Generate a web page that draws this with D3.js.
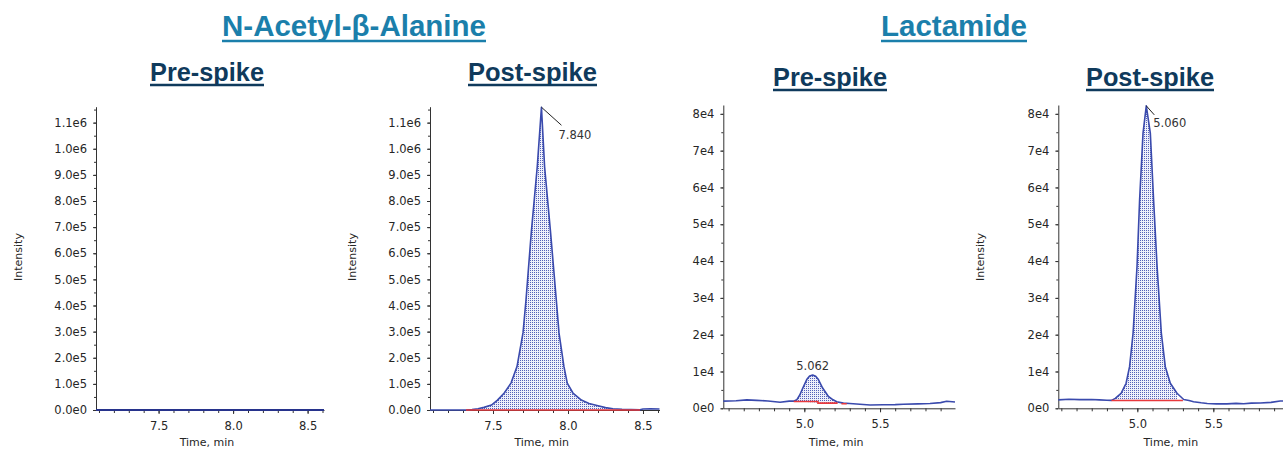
<!DOCTYPE html>
<meta charset="utf-8">
<script src="https://d3js.org/d3.v7.min.js"></script>
<style>
  body { margin: 0; background: #fff; }
  text { font-family: "DejaVu Sans", sans-serif; }
</style>
<div id="chart"></div>
<script>

// headings
var compounds = ["N-Acetyl-β-Alanine", "Lactamide"];
var conditions = ["Pre-spike", "Post-spike", "Pre-spike", "Post-spike"];
var peakLabels = [null, "7.840", "5.062", "5.060"];

// N-Acetyl-beta-Alanine, pre-spike (nothing there)
var acetylPreTime = [7.08, 7.2, 7.4, 7.6, 7.8, 8.0, 8.2, 8.4, 8.61];
var acetylPreIntensity = [0, 0, 0, 0, 0, 0, 0, 0, 0];

// N-Acetyl-beta-Alanine, post-spike
var acetylPostTime = [7.08, 7.2, 7.32, 7.36, 7.40, 7.44, 7.49, 7.53, 7.575, 7.62, 7.66, 7.70, 7.72, 7.755, 7.795, 7.823,
  7.844, 7.884, 7.922, 7.94, 7.973, 7.995, 8.033, 8.089, 8.14, 8.2, 8.25, 8.3, 8.36, 8.42, 8.48, 8.5, 8.55, 8.61];
var acetylPostIntensity = [0, 0, 0, 2000, 5000, 10000, 19000, 38000, 65000, 103000, 166000, 295000, 421000, 678000, 931000, 1159000,
  931000, 678000, 421000, 295000, 166000, 103000, 65000, 38000, 25000, 16000, 9000, 5000, 3000, 2000, 1000, 4000, 5000, 4000];
var acetylPostBaseTime = [7.32, 8.48];
var acetylPostBaseLevel = [0, 0];

// Lactamide, pre-spike
var lactPreTime = [4.465, 4.55, 4.62, 4.686, 4.76, 4.84, 4.90, 4.93, 4.95, 4.97, 4.99, 5.016, 5.035, 5.055, 5.075, 5.093,
  5.121, 5.159, 5.19, 5.214, 5.258, 5.3, 5.434, 5.522, 5.6, 5.654, 5.75, 5.83, 5.9, 5.94, 5.995];
var lactPreIntensity = [1950, 2050, 2300, 2150, 2000, 1650, 1950, 1950, 2300, 3600, 5500, 7800, 8800, 9050, 8700, 7800,
  5500, 3200, 2300, 1800, 1400, 1300, 900, 950, 1000, 1100, 1200, 1300, 1550, 1900, 1700];
var lactPreBaseTime = [4.93, 5.09, 5.09, 5.22, null, 5.245, 5.28];
var lactPreBaseLevel = [1850, 1850, 1400, 1400, null, 1250, 1250];

// Lactamide, post-spike
var lactPostTime = [4.48, 4.55, 4.62, 4.70, 4.75, 4.80, 4.83, 4.855, 4.893, 4.926, 4.949, 4.972, 4.998, 5.015, 5.0375, 5.059,
  5.0855, 5.107, 5.13, 5.158, 5.184, 5.217, 5.261, 5.305, 5.34, 5.37, 5.42, 5.46, 5.52, 5.59, 5.65, 5.70, 5.75, 5.81, 5.88, 5.94, 6.0];
var lactPostIntensity = [2300, 2450, 2350, 2400, 2300, 2200, 2150, 2700, 4080, 6800, 11300, 20390, 38490, 56600, 74750, 82170,
  74750, 56600, 38490, 20390, 11300, 6800, 4080, 2400, 2100, 1800, 1500, 1300, 1200, 1200, 1350, 1250, 1400, 1450, 1600, 2000, 2000];
var lactPostBaseTime = [4.83, 5.30];
var lactPostBaseLevel = [2100, 2100];

// axis ticks
var acetylTimeTicks = [7.5, 8.0, 8.5];
var lactTimeTicks = [5.0, 5.5];
var acetylIntTicks = [0, 1e5, 2e5, 3e5, 4e5, 5e5, 6e5, 7e5, 8e5, 9e5, 1e6, 1.1e6];
var acetylIntLabels = ["0.0e0", "1.0e5", "2.0e5", "3.0e5", "4.0e5", "5.0e5", "6.0e5", "7.0e5", "8.0e5", "9.0e5", "1.0e6", "1.1e6"];
var lactIntTicks = [0, 1e4, 2e4, 3e4, 4e4, 5e4, 6e4, 7e4, 8e4];
var lactIntLabels = ["0e0", "1e4", "2e4", "3e4", "4e4", "5e4", "6e4", "7e4", "8e4"];

var W = 1283, H = 450;
var svg = d3.select("#chart").append("svg").attr("width", W).attr("height", H);

// dotted fill like the instrument software
var pat = svg.append("defs").append("pattern")
  .attr("id", "dots").attr("width", 2).attr("height", 2)
  .attr("patternUnits", "userSpaceOnUse");
pat.append("rect").attr("width", 2).attr("height", 2).attr("fill", "#eef0fa");
pat.append("rect").attr("width", 1).attr("height", 1).attr("fill", "#5461b8");

// headings
var headPos = [{cx: 354, y: 36, w: 264}, {cx: 954, y: 36, w: 146}];
var subPos = [{cx: 207, y: 81, w: 114}, {cx: 532.5, y: 81, w: 129}, {cx: 830, y: 86, w: 114}, {cx: 1150, y: 86, w: 128}];

function heading(txt, p, size, color, gap) {
  svg.append("text")
    .attr("x", p.cx - p.w / 2).attr("y", p.y)
    .attr("textLength", p.w).attr("lengthAdjust", "spacingAndGlyphs")
    .style("font-family", "'Liberation Sans', Arial, sans-serif")
    .style("font-weight", "bold").style("font-size", size + "px")
    .style("fill", color).text(txt);
  svg.append("line")
    .attr("x1", p.cx - p.w / 2).attr("x2", p.cx + p.w / 2)
    .attr("y1", p.y + gap).attr("y2", p.y + gap)
    .attr("stroke", color).attr("stroke-width", 2.5);
}
compounds.forEach(function(c, i) { heading(c, headPos[i], 29, "#1b7fab", 5); });
conditions.forEach(function(c, i) { heading(c, subPos[i], 25, "#0f3a5c", 4); });

var panels = [
  {time: acetylPreTime, inten: acetylPreIntensity, xd: [7.08, 8.61], xr: [96, 324], yd: [0, 1.161e6], yr: [410, 106.7],
   xt: acetylTimeTicks, yt: acetylIntTicks, yl: acetylIntLabels, minorY: 5e4, yTitle: true, traceW: 2, traceC: "#27338c"},
  {time: acetylPostTime, inten: acetylPostIntensity, xd: [7.08, 8.61], xr: [430, 659.5], yd: [0, 1.161e6], yr: [410, 106.7],
   xt: acetylTimeTicks, yt: acetylIntTicks, yl: acetylIntLabels, minorY: 5e4, yTitle: true,
   baseT: acetylPostBaseTime, baseV: acetylPostBaseLevel, label: {dx: 17, dy: 32, lx: 20, ly: 18}},
  {time: lactPreTime, inten: lactPreIntensity, xd: [4.465, 5.995], xr: [723.3, 955], yd: [0, 8.24e4], yr: [408.3, 105],
   xt: lactTimeTicks, yt: lactIntTicks, yl: lactIntLabels, minorY: 5e3, yTitle: false,
   baseT: lactPreBaseTime, baseV: lactPreBaseLevel, label: {center: true, dy: -5}},
  {time: lactPostTime, inten: lactPostIntensity, xd: [4.48, 6.0], xr: [1058.3, 1289.3], yd: [0, 8.24e4], yr: [408.3, 105],
   xt: lactTimeTicks, yt: lactIntTicks, yl: lactIntLabels, minorY: 5e3, yTitle: true,
   baseT: lactPostBaseTime, baseV: lactPostBaseLevel, label: {dx: 7, dy: 21, lx: 8, ly: 9}}
];

var axisColor = "#333";

panels.forEach(function(p, k) {
  var g = svg.append("g");
  var x = d3.scaleLinear().domain(p.xd).range(p.xr);
  var y = d3.scaleLinear().domain(p.yd).range(p.yr);
  var pts = p.time.map(function(t, i) { return {t: t, v: p.inten[i]}; });

  // integrated peak fill, between trace and the red baseline
  if (p.baseT) {
    var s = p.baseT[0], e = d3.max(p.baseT);
    var floor = d3.scaleLinear().domain([s, e]).range([p.baseV[0], p.baseV[p.baseV.length - 1]]);
    var inPeak = pts.filter(function(d) { return d.t >= s && d.t <= e; });
    g.append("path").datum(inPeak)
      .attr("fill", "url(#dots)")
      .attr("d", d3.area().x(function(d) { return x(d.t); })
        .y0(function(d) { return y(floor(d.t)); })
        .y1(function(d) { return y(d.v); }));
  }

  // minor ticks
  var minorX = d3.range(Math.ceil(p.xd[0] * 10) / 10, p.xd[1], 0.1);
  g.append("g").attr("transform", "translate(0," + p.yr[0] + ")")
    .call(d3.axisBottom(x).tickValues(minorX).tickSize(3).tickSizeOuter(0).tickFormat(""))
    .call(function(a) { a.select(".domain").remove(); });
  g.append("g").attr("transform", "translate(" + p.xr[0] + ",0)")
    .call(d3.axisLeft(y).tickValues(d3.range(0, p.yd[1], p.minorY)).tickSize(2).tickSizeOuter(0).tickFormat(""))
    .call(function(a) { a.select(".domain").remove(); });

  // major axes
  var xa = g.append("g").attr("transform", "translate(0," + p.yr[0] + ")")
    .call(d3.axisBottom(x).tickValues(p.xt).tickSize(4).tickSizeOuter(0).tickPadding(8).tickFormat(d3.format(".1f")));
  var ya = g.append("g").attr("transform", "translate(" + p.xr[0] + ",0)")
    .call(d3.axisLeft(y).tickValues(p.yt).tickSize(3).tickSizeOuter(0).tickPadding(6)
      .tickFormat(function(d, i) { return p.yl[i]; }));
  g.selectAll(".domain, .tick line").attr("stroke", axisColor);
  [xa, ya].forEach(function(a) {
    a.selectAll("text").style("font-family", "'DejaVu Sans', sans-serif")
      .style("font-size", "11.5px").style("fill", "#262626");
  });

  // trace
  g.append("path").datum(pts)
    .attr("fill", "none")
    .attr("stroke", p.traceC || "#3a4aad")
    .attr("stroke-width", p.traceW || 1.6)
    .attr("stroke-linejoin", "round")
    .attr("d", d3.line().x(function(d) { return x(d.t); }).y(function(d) { return y(d.v); }));

  // red integration baseline
  if (p.baseT) {
    var bl = p.baseT.map(function(t, i) { return {t: t, v: p.baseV[i]}; });
    g.append("path").datum(bl)
      .attr("fill", "none").attr("stroke", "#e8393d").attr("stroke-width", 1.6)
      .attr("d", d3.line().defined(function(d) { return d.t != null; })
        .x(function(d) { return x(d.t); }).y(function(d) { return y(d.v); }));
  }

  // apex label
  if (peakLabels[k]) {
    var top = pts[d3.maxIndex(pts, function(d) { return d.v; })];
    var ax = x(top.t), ay = y(top.v);
    if (p.label.center) {
      g.append("text").attr("x", ax).attr("y", ay + p.label.dy)
        .attr("text-anchor", "middle").style("font-size", "11.5px").style("fill", "#333")
        .text(peakLabels[k]);
    } else {
      g.append("line").attr("x1", ax).attr("y1", ay)
        .attr("x2", ax + p.label.lx).attr("y2", ay + p.label.ly)
        .attr("stroke", "#222").attr("stroke-width", 1);
      g.append("text").attr("x", ax + p.label.dx).attr("y", ay + p.label.dy)
        .style("font-size", "11.5px").style("fill", "#333")
        .text(peakLabels[k]);
    }
  }

  // axis titles
  g.append("text")
    .attr("x", (p.xr[0] + p.xr[1]) / 2 - 3).attr("y", 446)
    .attr("text-anchor", "middle").style("font-size", "11px").style("fill", "#262626")
    .text("Time, min");
  if (p.yTitle) {
    g.append("text")
      .attr("transform", "translate(" + (p.xr[0] - 74) + ",257) rotate(-90)")
      .attr("text-anchor", "middle").style("font-size", "11px").style("fill", "#262626")
      .text("Intensity");
  }
});

</script>
